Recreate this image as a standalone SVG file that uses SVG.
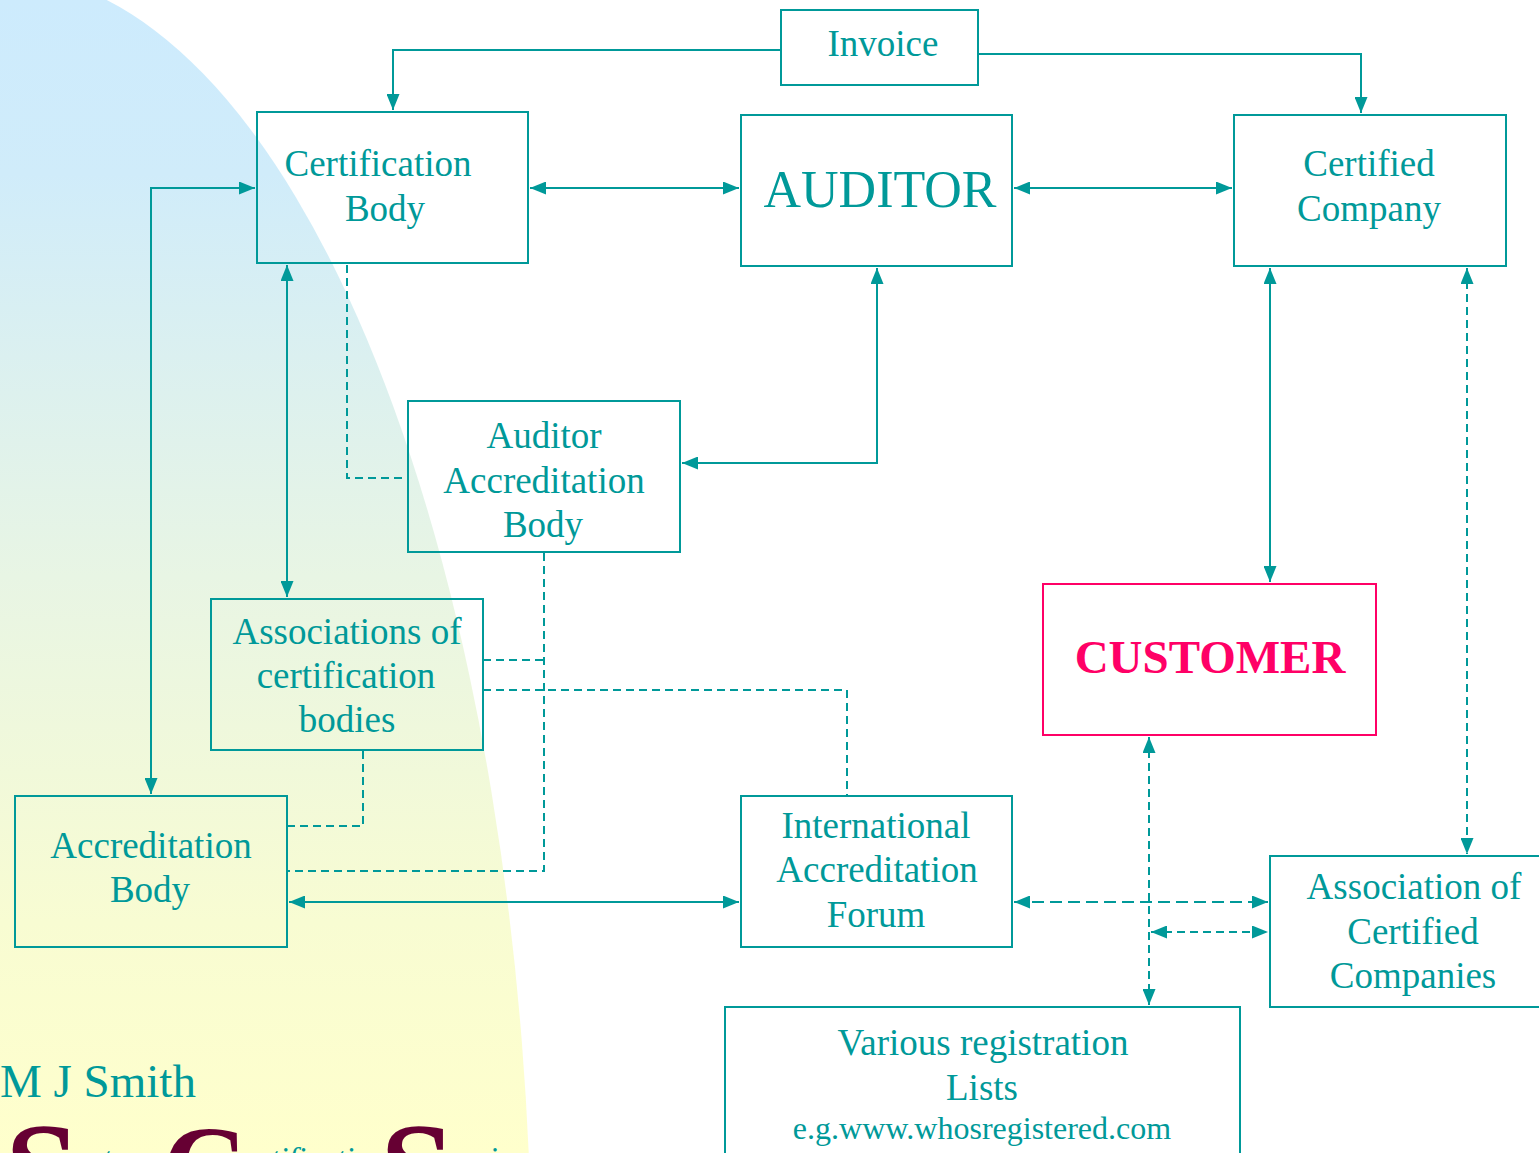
<svg xmlns="http://www.w3.org/2000/svg" width="1539" height="1153" viewBox="0 0 1539 1153">
<defs>
<linearGradient id="bg" x1="0" y1="0" x2="0" y2="1153" gradientUnits="userSpaceOnUse">
<stop offset="0" stop-color="#cdebfd"/>
<stop offset="0.15" stop-color="#d0ecfa"/>
<stop offset="0.5" stop-color="#e8f5e4"/>
<stop offset="0.8" stop-color="#f8fcd2"/>
<stop offset="1" stop-color="#ffffcc"/>
</linearGradient>
<marker id="a" viewBox="0 0 16 13" markerWidth="16" markerHeight="13" refX="16" refY="6.5" orient="auto-start-reverse" markerUnits="userSpaceOnUse">
<path d="M0,0 L16,6.5 L0,13 z" fill="#009999"/>
</marker>
</defs>
<style>
.box{fill:none;stroke:#009999;stroke-width:2}
.t{font-family:"Liberation Serif","Times New Roman",serif;fill:#009999;text-anchor:middle;font-size:37px}
.c{fill:none;stroke:#009999;stroke-width:2}
.d{stroke-dasharray:8 5}
.dl{stroke-dasharray:12 6}
.ar{marker-end:url(#a)}
.ar2{marker-start:url(#a);marker-end:url(#a)}
.big{font-size:134px;font-weight:bold;fill:#660033}
.sm{font-size:32px;font-style:italic;fill:#009999}
</style>
<rect width="1539" height="1153" fill="#ffffff"/>
<ellipse cx="0" cy="1300" rx="532" ry="1327" fill="url(#bg)"/>

<g id="connectors">
<polyline class="c ar" points="781,50 393,50 393,110"/>
<polyline class="c ar" points="978,54 1361,54 1361,113"/>
<line class="c ar2" x1="530" y1="188" x2="739" y2="188"/>
<line class="c ar2" x1="1014" y1="188" x2="1232" y2="188"/>
<polyline class="c ar2" points="877,268 877,463 682,463"/>
<line class="c ar2" x1="287" y1="265" x2="287" y2="597"/>
<polyline class="c ar2" points="151,794 151,188 255,188"/>
<line class="c ar2" x1="1270" y1="268" x2="1270" y2="582"/>
<line class="c d ar2" x1="1467" y1="268" x2="1467" y2="854"/>
<line class="c d ar2" x1="1149" y1="737" x2="1149" y2="1005"/>
<line class="c dl ar2" x1="1014" y1="902" x2="1268" y2="902"/>
<line class="c d ar2" x1="1151" y1="932" x2="1268" y2="932"/>
<line class="c ar2" x1="289" y1="902" x2="739" y2="902"/>
<polyline class="c d" points="347,265 347,478 408,478"/>
<polyline class="c d" points="544,553 544,871 287,871"/>
<polyline class="c d" points="483,660 544,660"/>
<polyline class="c d" points="483,690 847,690 847,796"/>
<polyline class="c d" points="363,751 363,826 287,826"/>
</g>

<g id="invoice">
<rect class="box" x="781" y="10" width="197" height="75"/>
<text class="t" x="883" y="56">Invoice</text>
</g>
<g id="certification-body">
<rect class="box" x="257" y="112" width="271" height="151"/>
<text class="t" x="378" y="176">Certification</text>
<text class="t" x="385" y="221">Body</text>
</g>
<g id="auditor">
<rect class="box" x="741" y="115" width="271" height="151"/>
<text class="t" x="880" y="207" style="font-size:52px">AUDITOR</text>
</g>
<g id="certified-company">
<rect class="box" x="1234" y="115" width="272" height="151"/>
<text class="t" x="1369" y="176">Certified</text>
<text class="t" x="1369" y="221">Company</text>
</g>
<g id="auditor-accreditation-body">
<rect class="box" x="408" y="401" width="272" height="151"/>
<text class="t" x="544" y="448">Auditor</text>
<text class="t" x="544" y="493">Accreditation</text>
<text class="t" x="543" y="537">Body</text>
</g>
<g id="associations-cb">
<rect class="box" x="211" y="599" width="272" height="151"/>
<text class="t" x="347" y="644">Associations of</text>
<text class="t" x="346" y="688">certification</text>
<text class="t" x="347" y="732">bodies</text>
</g>
<g id="customer">
<rect x="1043" y="584" width="333" height="151" fill="none" stroke="#ff0066" stroke-width="2"/>
<text class="t" x="1210" y="673" style="font-size:47px;font-weight:bold;fill:#ff0066">CUSTOMER</text>
</g>
<g id="accreditation-body">
<rect class="box" x="15" y="796" width="272" height="151"/>
<text class="t" x="151" y="858">Accreditation</text>
<text class="t" x="150" y="902">Body</text>
</g>
<g id="iaf">
<rect class="box" x="741" y="796" width="271" height="151"/>
<text class="t" x="876" y="838">International</text>
<text class="t" x="877" y="882">Accreditation</text>
<text class="t" x="876" y="927">Forum</text>
</g>
<g id="association-certified-companies">
<rect class="box" x="1270" y="856" width="280" height="151"/>
<text class="t" x="1414" y="899">Association of</text>
<text class="t" x="1413" y="944">Certified</text>
<text class="t" x="1413" y="988">Companies</text>
</g>
<g id="registration-lists">
<rect class="box" x="725" y="1007" width="515" height="160"/>
<text class="t" x="983" y="1055">Various registration</text>
<text class="t" x="982" y="1100">Lists</text>
<text class="t" x="982" y="1139" style="font-size:32px">e.g.www.whosregistered.com</text>
</g>

<g id="footer">
<text x="0" y="1097" style="font-family:'Liberation Serif','Times New Roman',serif;font-size:47px;fill:#009999">M J Smith</text>
<g style="font-family:'Liberation Serif','Times New Roman',serif">
<text class="big" x="5" y="1215">S</text>
<text class="sm" x="76" y="1169">ystem</text>
<text class="big" x="162" y="1208" style="font-size:118px">C</text>
<text class="sm" x="244" y="1169">ertification</text>
<text class="big" x="380" y="1215">S</text>
<text class="sm" x="448" y="1169">ervices</text>
</g>
</g>
</svg>
